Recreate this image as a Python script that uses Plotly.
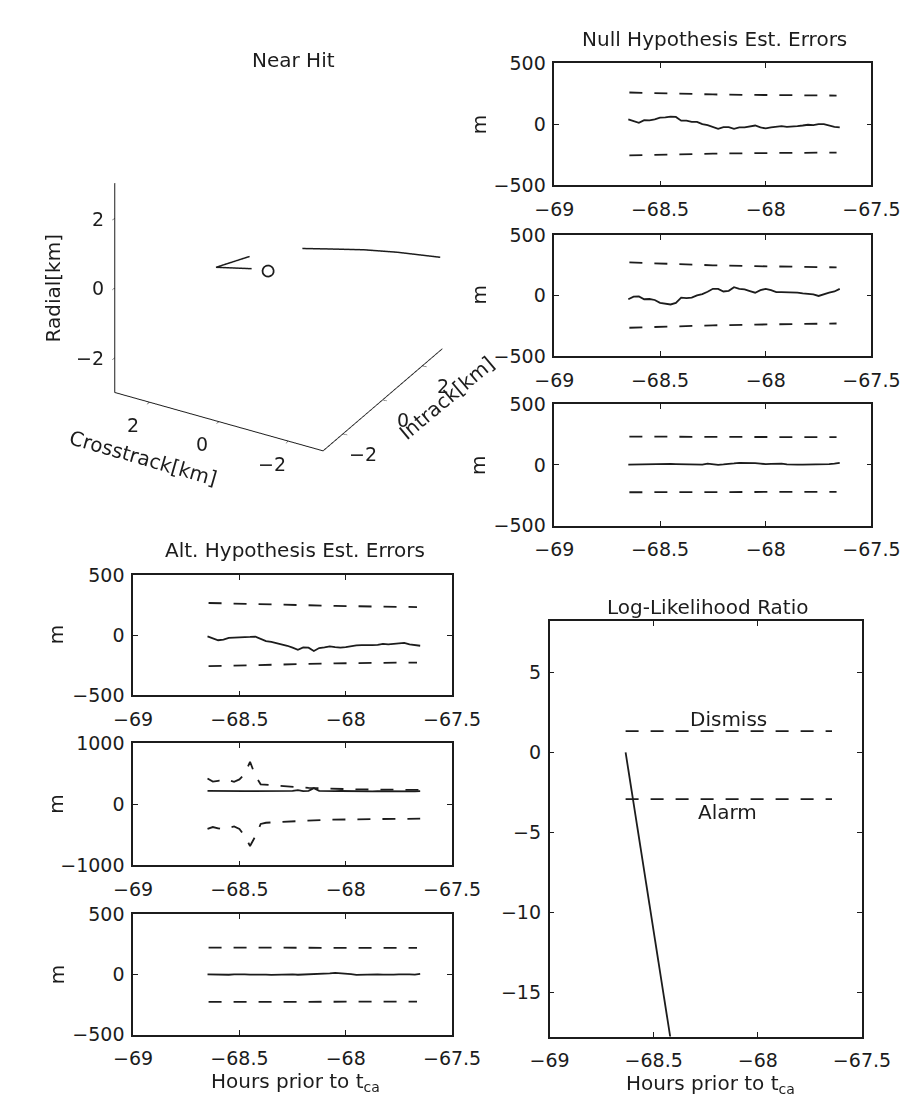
import plotly.graph_objects as go

W, H = 918, 1103
FONT = "DejaVu Sans"
INK = "#1c1c1c"

# ---------------- data ----------------
hours = [-68.65, -68.625, -68.6, -68.575, -68.55, -68.525, -68.5, -68.475, -68.45, -68.425,
         -68.4, -68.375, -68.35, -68.325, -68.3, -68.275, -68.25, -68.225, -68.2, -68.175,
         -68.15, -68.125, -68.1, -68.075, -68.05, -68.025, -68.0, -67.975, -67.95, -67.925,
         -67.9, -67.875, -67.85, -67.825, -67.8, -67.775, -67.75, -67.725, -67.7, -67.675,
         -67.65]
bound_hours = [-68.645, -68.45, -68.25, -68.05, -67.85, -67.665]

null_1 = [42, 26, 13, 35, 33, 42, 55, 58, 64, 61, 31, 31, 21, 21, 2, -6, -20, -36, -22, -22,
          -36, -25, -25, -17, -9, -25, -33, -25, -20, -14, -20, -14, -14, -9, -3, -6, 2, 2, -12, -20,
          -25]
null_1_hi = [262, 252, 246, 242, 239, 237]
null_1_lo = [-255, -246, -240, -236, -233, -231]

null_2 = [-30, -9, -6, -30, -28, -36, -60, -68, -73, -60, -17, -20, -17, 2, 13, 32, 56, 56, 34, 40,
          69, 56, 51, 37, 24, 45, 56, 45, 29, 29, 29, 24, 24, 18, 13, 10, -3, 13, 24, 34,
          56]
null_2_hi = [274, 260, 250, 243, 237, 233]
null_2_lo = [-265, -253, -245, -239, -234, -230]

null_3 = [3, 4, 6, 8, 10, 11, 10, 9, 8, 7, 6, 8, 9, 6, 3, 11, 5, 1, 4, 6,
          12, 17, 18, 19, 15, 11, 6, 8, 10, 11, 5, 1, 2, 3, 3, 2, 3, 5, 6, 10,
          17]
null_3_hi = [233, 232, 231, 230, 229, 228]
null_3_lo = [-225, -224, -223, -222, -222, -221]

alt_1 = [-10, -26, -42, -37, -23, -20, -20, -15, -15, -12, -28, -50, -56, -66, -75, -88, -104, -121, -102, -104,
         -131, -107, -102, -93, -99, -104, -99, -91, -85, -83, -85, -83, -80, -72, -77, -72, -69, -64, -77, -83,
         -88]
alt_1_hi = [267, 258, 250, 243, 237, 233]
alt_1_lo = [-257, -248, -240, -234, -230, -227]

alt_2 = [222, 220, 221, 219, 220, 222, 220, 218, 219, 220, 221, 219, 218, 220, 219, 221, 222, 235, 220, 224,
         268, 222, 218, 220, 219, 221, 218, 216, 218, 220, 217, 215, 218, 216, 214, 217, 215, 218, 216, 214,
         218]
alt_2_hi = [425, 375, 385, 420, 400, 372, 410, 500, 700, 470, 330, 322, 320, 316, 305, 295, 287, 282, 278, 272,
            268, 265, 262, 258, 255, 252, 250, 248, 247, 246, 246, 246, 245, 245, 244, 243, 242, 241, 240, 240,
            239]
alt_2_lo = [-400, -370, -390, -410, -380, -360, -400, -520, -680, -520, -320, -300, -295, -290, -285, -280, -272, -265, -260, -258,
            -256, -254, -252, -250, -248, -246, -245, -244, -243, -242, -241, -240, -239, -238, -237, -236, -235, -235, -234, -234,
            -233]

alt_3 = [0, -2, 2, 0, -3, 1, 3, 0, -2, 0, 2, -1, -4, -2, 0, 3, 1, -3, -2, 0,
         4, 6, 3, 8, 12, 10, 6, 2, -4, -2, 0, 3, 1, -2, -4, -1, 0, 2, 0, -1,
         5]
alt_3_hi = [222, 221, 220, 220, 219, 219]
alt_3_lo = [-228, -227, -226, -226, -225, -225]

llr_hours = [-68.635, -68.40]
llr = [0.0, -19.5]
threshold_hours = [-68.635, -67.644]
dismiss_level = [1.33, 1.33]
alarm_level = [-2.93, -2.93]

# 3-D near-hit geometry (km)
traj_intrack = [2.95, 2.95, 2.95, 2.95, 2.95]
traj_crosstrack = [1.0, 0.184, -0.778, -1.738, -2.97]
traj_radial = [-1.216, -1.003, -0.757, -0.56, -0.36]
vee_intrack = [0.066, -0.833, -0.453]
vee_crosstrack = [0.869, 1.323, 0.516]
vee_radial = [0.0, 0.0, 0.0]
tca_intrack = [-0.35]
tca_crosstrack = [0.11]
tca_radial = [0.0]
km_ticks = [-2, 0, 2]

hour_ticks = [-69, -68.5, -68, -67.5]

# ---------------- layout helpers ----------------
def xdom(x0, x1):
    return [x0 / W, x1 / W]

def ydom(top, bottom):
    return [1 - bottom / H, 1 - top / H]

RIGHT = (556, 891)
LEFT = (111, 448)

panels = [
    ("N1", RIGHT, (45.4, 169.7), [-500, 500], [-500, 0, 500], null_1, null_1_hi, null_1_lo, bound_hours),
    ("N2", RIGHT, (220.4, 344.1), [-500, 500], [-500, 0, 500], null_2, null_2_hi, null_2_lo, bound_hours),
    ("N3", RIGHT, (393.0, 517.0), [-500, 500], [-500, 0, 500], null_3, null_3_hi, null_3_lo, bound_hours),
    ("A1", LEFT, (567.2, 690.2), [-500, 500], [-500, 0, 500], alt_1, alt_1_hi, alt_1_lo, bound_hours),
    ("A2", LEFT, (739.2, 863.7), [-1000, 1000], [-1000, 0, 1000], alt_2, alt_2_hi, alt_2_lo, hours),
    ("A3", LEFT, (913.2, 1036.5), [-500, 500], [-500, 0, 500], alt_3, alt_3_hi, alt_3_lo, bound_hours),
]

fig = go.Figure()
layout = {}

tickfont = dict(family=FONT, size=19, color=INK)
LW = 1.8

def axis_common():
    return dict(showline=True, mirror="ticks", ticks="inside", ticklen=5, tickwidth=1.2,
                linecolor=INK, tickcolor=INK, linewidth=1.5, showgrid=False, zeroline=False,
                tickfont=tickfont, fixedrange=True)

for i, (name, xp, yp, yr, yt, ser, hi, lo, bx) in enumerate(panels, start=1):
    xa = "x" if i == 1 else f"x{i}"
    ya = "y" if i == 1 else f"y{i}"
    xk = "xaxis" if i == 1 else f"xaxis{i}"
    yk = "yaxis" if i == 1 else f"yaxis{i}"
    layout[xk] = dict(axis_common(), domain=xdom(*xp), anchor=ya, range=[-69, -67.5],
                      tickvals=hour_ticks, ticklabelstandoff=6)
    layout[yk] = dict(axis_common(), domain=ydom(*yp), anchor=xa, range=yr, tickvals=yt,
                      ticklabelstandoff=3)
    fig.add_trace(go.Scatter(x=hours, y=ser, xaxis=xa, yaxis=ya, mode="lines",
                             line=dict(color=INK, width=LW), hoverinfo="skip"))
    for b in (hi, lo):
        fig.add_trace(go.Scatter(x=bx, y=b, xaxis=xa, yaxis=ya, mode="lines",
                                 line=dict(color=INK, width=LW, dash="13px,12px"),
                                 hoverinfo="skip"))

# Log-likelihood ratio panel
layout["xaxis7"] = dict(axis_common(), domain=xdom(551, 881), anchor="y7", range=[-69, -67.5],
                        tickvals=hour_ticks, ticklabelstandoff=6)
layout["yaxis7"] = dict(axis_common(), domain=ydom(614, 1038.3), anchor="x7", range=[-17.76, 8.22],
                        tickvals=[-15, -10, -5, 0, 5], ticklabelstandoff=3)
fig.add_trace(go.Scatter(x=llr_hours, y=llr, xaxis="x7", yaxis="y7", mode="lines",
                         line=dict(color=INK, width=LW), hoverinfo="skip"))
for lvl in (dismiss_level, alarm_level):
    fig.add_trace(go.Scatter(x=threshold_hours, y=lvl, xaxis="x7", yaxis="y7", mode="lines",
                             line=dict(color=INK, width=LW, dash="13px,12px"), hoverinfo="skip"))

# 3-D near hit
fig.add_trace(go.Scatter3d(x=traj_intrack, y=traj_crosstrack, z=traj_radial, mode="lines",
                           line=dict(color=INK, width=3), hoverinfo="skip"))
fig.add_trace(go.Scatter3d(x=vee_intrack, y=vee_crosstrack, z=vee_radial, mode="lines",
                           line=dict(color=INK, width=3), hoverinfo="skip"))
fig.add_trace(go.Scatter3d(x=tca_intrack, y=tca_crosstrack, z=tca_radial, mode="markers",
                           marker=dict(symbol="circle-open", size=7, color=INK, line=dict(width=3, color=INK)),
                           hoverinfo="skip"))

ax3 = dict(range=[-3, 3], tickvals=km_ticks, showgrid=False, showbackground=False,
           zeroline=False, showspikes=False, showline=True, linecolor=INK, linewidth=2,
           ticks="inside", ticklen=5, tickcolor=INK, showticklabels=False,
           title=dict(text=""))
D = 1.42
AR = 1.27

def sann(x, y, z, text, xs=0, ys=0, xanchor="center", angle=0, size=19):
    return dict(x=x, y=y, z=z, text=text, showarrow=False, xshift=xs, yshift=ys,
                xanchor=xanchor, yanchor="middle", textangle=angle,
                font=dict(family=FONT, size=size, color=INK))

lab = {-2: "\u22122", 0: "0", 2: "2"}
scene_ann = []
for v in km_ticks:
    scene_ann.append(sann(-3, 3, v, lab[v], xs=-9, xanchor="right"))
    scene_ann.append(sann(-3, v, -3, lab[v], xs=-17, ys=-22))
    scene_ann.append(sann(v, -3, -3, lab[v], xs=20, ys=-20))
scene_ann.append(sann(-3, 3, 0, "Radial[km]", xs=-62, angle=-90, size=20))
scene_ann.append(sann(-3, 0, -3, "Crosstrack[km]", xs=-76, ys=-36, angle=16, size=20))
scene_ann.append(sann(0, -3, -3, "Intrack[km]", xs=64, ys=2, angle=-40, size=20))

layout["scene"] = dict(domain=dict(x=xdom(86, 444), y=ydom(59.5, 445.5)),
                       xaxis=ax3, yaxis=ax3, zaxis=ax3, aspectmode="manual",
                       aspectratio=dict(x=AR, y=AR, z=AR),
                       bgcolor="white", annotations=scene_ann,
                       camera=dict(eye=dict(x=-0.757 * D, y=-0.433 * D, z=0.49 * D),
                                   up=dict(x=0, y=0, z=1), center=dict(x=0, y=0, z=0),
                                   projection=dict(type="orthographic")))

# ---------------- text ----------------
def ann(text, px, py, size=20, angle=0, yanchor="middle"):
    return dict(text=text, x=px / W, y=1 - py / H, xref="paper", yref="paper",
                xanchor="center", yanchor=yanchor, showarrow=False, textangle=angle,
                font=dict(family=FONT, size=size, color=INK))

annotations = [
    ann("Near Hit", 280, 42),
    ann("Null Hypothesis Est. Errors", 725, 20.7),
    ann("Alt. Hypothesis Est. Errors", 282, 541.6),
    ann("Log-Likelihood Ratio", 718, 600),
    ann("Hours prior to t<sub>ca</sub>", 283, 1069, yanchor="top"),
    ann("Hours prior to t<sub>ca</sub>", 721, 1071, yanchor="top"),
]
for yc in (107.9, 281.6, 455.5):
    annotations.append(ann("m", 476, yc, size=20, angle=-90))
for yc in (628.5, 801.3, 975.2):
    annotations.append(ann("m", 30, yc, size=20, angle=-90))
annotations.append(dict(text="Dismiss", x=-68.14, y=2.08, xref="x7", yref="y7", showarrow=False,
                        xanchor="center", yanchor="middle", font=dict(family=FONT, size=20, color=INK)))
annotations.append(dict(text="Alarm", x=-68.147, y=-3.75, xref="x7", yref="y7", showarrow=False,
                        xanchor="center", yanchor="middle", font=dict(family=FONT, size=20, color=INK)))

fig.update_layout(width=W, height=H, margin=dict(l=0, r=0, t=0, b=0, pad=0),
                  paper_bgcolor="white", plot_bgcolor="white", showlegend=False,
                  annotations=annotations, font=dict(family=FONT, color=INK), **layout)

fig.write_html("out.html")
